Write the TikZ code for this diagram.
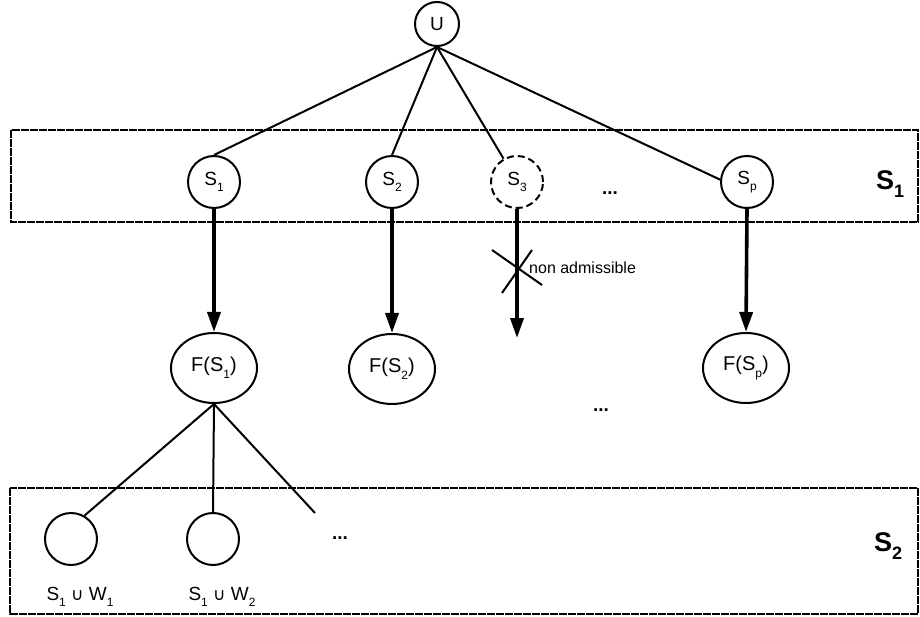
\documentclass[tikz,border=0pt]{standalone}
\usepackage{fontspec}
\setmainfont{Liberation Sans}
\newfontfamily\dejavu{DejaVu Sans}
\usetikzlibrary{arrows.meta,shapes.geometric}
\newcommand\mysub[1]{\raisebox{-0.35em}{\fontsize{12}{12}\selectfont #1}}
\newcommand\bigsub[1]{\raisebox{-0.3em}{\fontsize{18}{18}\selectfont\bfseries #1}}
\begin{document}
\begin{tikzpicture}[x=1pt,y=-1pt,
  st/.style={circle, draw, line width=2pt, minimum size=52pt, inner sep=0pt, font=\fontsize{19}{19}\selectfont},
  fs/.style={ellipse, draw, line width=2pt, minimum width=86pt, minimum height=70pt, inner sep=0pt, font=\fontsize{20}{20}\selectfont},
  leaf/.style={circle, draw, line width=2pt, minimum size=52pt, inner sep=0pt},
  band/.style={draw, line width=1.2pt, dash pattern=on 8pt off 1pt},
  edge/.style={line width=2pt},
  arr/.style={line width=3.6pt, -{Triangle[length=20pt,width=13pt]}},
  lbl/.style={font=\fontsize{16}{16}\selectfont},
  dots/.style={font=\fontsize{19}{19}\selectfont\bfseries},
  biglbl/.style={font=\fontsize{27}{27}\selectfont\bfseries}]
\useasboundingbox (0,0) rectangle (920,617);
% bands
\draw[band] (11,130) rectangle (918,222);
\draw[band] (10,488) rectangle (918,614);
% nodes
\node[st, minimum size=44pt] (U) at (437,24) {U};
\node[st] (S1) at (214,182) {S\mysub{1}};
\node[st] (S2) at (392,182) {S\mysub{2}};
\node[st, dash pattern=on 7pt off 4pt] (S3) at (517,182) {S\mysub{3}};
\node[dots] (d1) at (610,193) {...};
\node[st] (Sp) at (747,182) {S\mysub{p}};
\node[biglbl] (L1) at (890,184) {S\bigsub{1}};
\node[fs] (F1) at (214,368) {F(S\mysub{1})};
\node[fs] (F2) at (392,369) {F(S\mysub{2})};
\node[fs] (Fp) at (746,368) {F(S\mysub{p})};
\coordinate (S3end) at (517,338);
\node[lbl, anchor=west, inner sep=0pt] (na) at (529,268) {non admissible};
\node[dots] (d2) at (601,410) {...};
\node[leaf] (W1) at (71,539) {};
\node[leaf] (W2) at (213,539) {};
\coordinate (W3) at (315,513);
\node[dots] (d3) at (340,538) {...};
\node[font=\fontsize{19}{19}\selectfont] (lw1) at (80,597) {S\mysub{1} {\dejavu\fontsize{17}{17}\selectfont ∪} W\mysub{1}};
\node[font=\fontsize{19}{19}\selectfont] (lw2) at (222,597) {S\mysub{1} {\dejavu\fontsize{17}{17}\selectfont ∪} W\mysub{2}};
\node[biglbl] (L2) at (888,546) {S\bigsub{2}};
% connectors
\draw[edge] (U.south) -- (S1.north);
\draw[edge] (U.south) -- (S2.north);
\draw[edge] (U.south) -- (S3.120);
\draw[edge] (U.south) -- (Sp.175);
\draw[arr] (S1.south) -- (F1.north);
\draw[arr] (S2.south) -- (F2.north);
\draw[arr] (S3.south) -- (S3end);
\draw[arr] (Sp.south) -- (Fp.north);
% cross
\draw[edge] (492,250) -- (542,285);
\draw[edge] (532,250) -- (502,293);
\draw[edge] (F1.south) -- (W1.60);
\draw[edge] (F1.south) -- (W2.north);
\draw[edge] (F1.south) -- (W3);
\end{tikzpicture}
\end{document}
